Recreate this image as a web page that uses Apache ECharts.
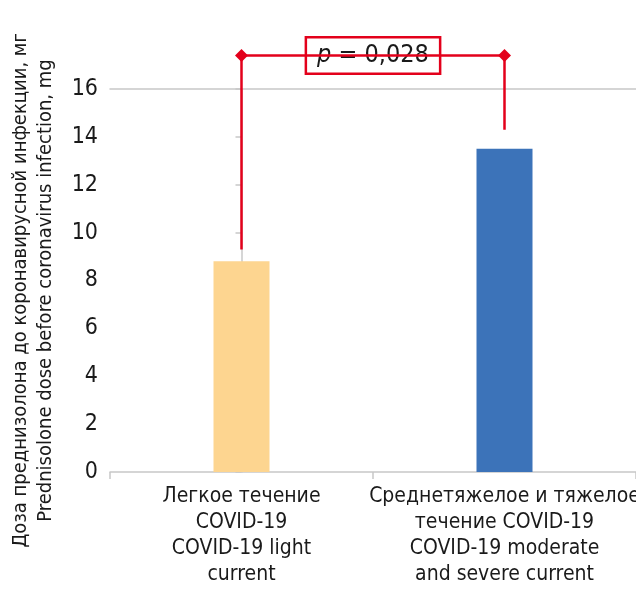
<!DOCTYPE html>
<html><head><meta charset="utf-8">
<script src="https://cdn.jsdelivr.net/npm/echarts@6/dist/echarts.min.js"></script>
<style>html,body{margin:0;padding:0;background:#fff}#c{width:636px;height:595px}</style>
</head><body><div id="c"></div>
<script>
const categories = ['Легкое течение\nCOVID-19\nCOVID-19 light\ncurrent', 'Среднетяжелое и тяжелое\nтечение COVID-19\nCOVID-19 moderate\nand severe current'];
const values = [8.8, 13.5];
const barColors = ['#FDD590', '#3C73B9'];
const bracket = [[0, 9.3], [0, 17.4], [1, 17.4], [1, 14.3]];
const pLabel = [0.5, 17.4];
const yTicks = [0, 2, 4, 6, 8, 10, 12, 14, 16];
const FONT = '"DejaVu Sans Condensed","Liberation Sans Narrow","Roboto",sans-serif';

const chart = echarts.init(document.getElementById('c'));
chart.setOption({
  animation: false,
  grid: { left: 110, right: 0, top: 89, bottom: 123, containLabel: false, outerBoundsMode: 'none' },
  xAxis: [{
    type: 'category', data: categories,
    axisLine: { lineStyle: { color: '#c8c8c8', width: 1.5 } },
    axisTick: { show: true, length: 7, lineStyle: { color: '#c8c8c8', width: 1.5 } },
    axisLabel: { color: '#1a1a1a', fontFamily: FONT, fontSize: 21, lineHeight: 26, margin: 12, interval: 0 }
  }, {
    type: 'value', position: 'top', min: -0.5, max: 1.5,
    axisLine: { show: true, lineStyle: { color: '#c8c8c8', width: 1.5 } },
    axisTick: { show: false }, axisLabel: { show: false }, splitLine: { show: false }
  }],
  yAxis: {
    type: 'value', min: 0, max: 16, interval: 2,
    name: 'Доза преднизолона до коронавирусной инфекции, мг\nPrednisolone dose before coronavirus infection, mg',
    nameLocation: 'middle', nameGap: 52, nameRotate: 90,
    nameTextStyle: { color: '#1a1a1a', fontFamily: FONT, fontSize: 20, lineHeight: 25, padding: [0, 20, 0, 0] },
    axisLine: { show: true, lineStyle: { color: '#c8c8c8', width: 1.5 } },
    axisTick: { show: true, length: 6, lineStyle: { color: '#c8c8c8', width: 1.5 } },
    axisLabel: { color: '#1a1a1a', fontFamily: FONT, fontSize: 23, margin: 12 },
    splitLine: { show: false }
  },
  series: [{
    type: 'bar', barWidth: 56,
    data: values.map((v, i) => ({ value: v, itemStyle: { color: barColors[i] } }))
  }, {
    type: 'line', xAxisIndex: 1, clip: false, silent: true,
    data: bracket.map((p, i) => ({ value: p, symbol: (i === 1 || i === 2) ? 'diamond' : 'none' })),
    symbolSize: 13,
    lineStyle: { color: '#E3001B', width: 2.5 },
    itemStyle: { color: '#E3001B' }
  }, {
    type: 'scatter', xAxisIndex: 1, clip: false, silent: true,
    symbolSize: 1, itemStyle: { opacity: 1, color: 'rgba(0,0,0,0)' },
    data: [pLabel],
    label: {
      show: true, position: 'inside', opacity: 1,
      formatter: '{i|p }{n|= 0,028}',
      backgroundColor: '#fff', borderColor: '#E3001B', borderWidth: 2.5,
      padding: [5, 10, 4, 10],
      rich: {
        i: { fontFamily: FONT, fontSize: 25, fontStyle: 'italic', color: '#1a1a1a' },
        n: { fontFamily: FONT, fontSize: 25, color: '#1a1a1a' }
      }
    }
  }]
});
</script></body></html>
